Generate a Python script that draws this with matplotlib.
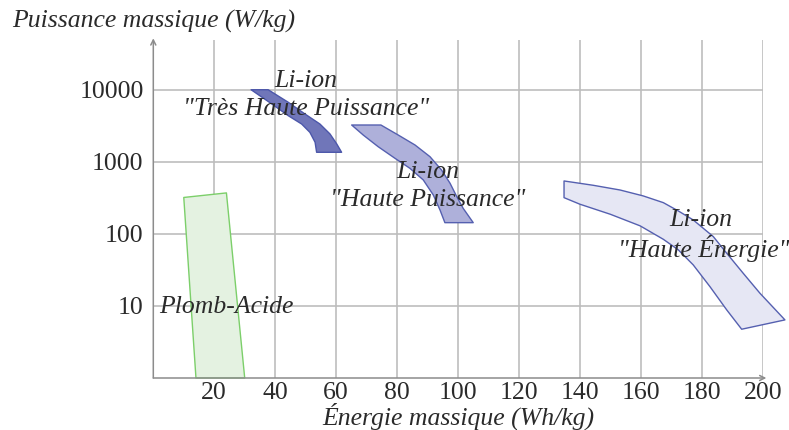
import matplotlib
matplotlib.use("Agg")
import matplotlib.pyplot as plt
from matplotlib.patches import Polygon

# Ragone chart: specific power vs specific energy for battery technologies
x_ticks = [20, 40, 60, 80, 100, 120, 140, 160, 180, 200]
y_ticks = [10, 100, 1000, 10000]
y_tick_labels = ["10", "100", "1000", "10000"]

# Outline of each technology region (Wh/kg, W/kg), traced clockwise
plomb_acide_x = [10, 24, 30, 14]
plomb_acide_y = [320, 370, 1, 1]

tres_haute_puissance_x = [32.1, 37.7, 44.3, 49.8, 54.7, 58.0, 60.2, 61.8,
                          53.6, 53.1, 51.4, 48.7, 44.3, 38.9]
tres_haute_puissance_y = [10000, 10000, 6690, 4600, 3340, 2430, 1770, 1355,
                          1355, 1865, 2560, 3340, 4360, 6340]

haute_puissance_x = [65.1, 74.7, 80.4, 85.9, 90.8, 94.6, 97.4, 99.6, 101.7, 105.0,
                     95.7, 94.1, 91.9, 88.6, 84.2, 79.3, 73.8, 68.9]
haute_puissance_y = [3240, 3240, 2350, 1710, 1178, 769, 503, 328, 226, 143,
                     143, 214, 346, 560, 813, 1119, 1620, 2350]

haute_energie_x = [134.8, 144.4, 153.2, 160.8, 167.4, 172.3, 177.2, 183.8, 188.2,
                   193.6, 199.1, 207.3,
                   193.1, 188.2, 182.7, 177.2, 172.3, 167.4, 159.8, 150.0, 140.0, 134.8]
haute_energie_y = [542, 472, 406, 336, 271, 208, 156, 91.5, 53.8,
                   28.4, 15.0, 6.4,
                   4.75, 8.8, 18.5, 37.1, 60, 84, 129, 187, 258, 318]

regions = [
    (plomb_acide_x, plomb_acide_y, "#e4f2e1", "#7ccf6a"),
    (tres_haute_puissance_x, tres_haute_puissance_y, "#7076b9", "#4c57aa"),
    (haute_puissance_x, haute_puissance_y, "#aeb0da", "#5560b0"),
    (haute_energie_x, haute_energie_y, "#e6e7f4", "#5560b0"),
]

labels = [
    (50.2, 11000, "Li-ion"),
    (50.3, 4460, "\"Très Haute Puissance\""),
    (90.0, 590, "Li-ion"),
    (90.0, 246, "\"Haute Puissance\""),
    (179.7, 130, "Li-ion"),
    (180.6, 48.3, "\"Haute Énergie\""),
    (24.0, 8.07, "Plomb-Acide"),
]

serif = ["Liberation Serif", "DejaVu Serif"]
text_color = "#2a2a2a"
grid_color = "#bdbdbd"
fs = 18.5

fig = plt.figure(figsize=(7.89, 4.30), dpi=100)
ax = fig.add_axes([153.3 / 789, 1 - 378 / 430, (762.7 - 153.3) / 789, (378 - 40) / 430])
ax.set_xscale("linear")
ax.set_yscale("log")
ax.set_xlim(0, 200)
ax.set_ylim(1, 10 ** 4.69)

for xs, ys, face, edge in regions:
    poly = Polygon(list(zip(xs, ys)), closed=True, facecolor=face,
                   edgecolor=edge, linewidth=1.0, zorder=3, clip_on=False,
                   joinstyle="round")
    ax.add_patch(poly)

for x, y, s in labels:
    ax.text(x, y, s, ha="center", va="baseline", fontsize=fs,
            family=serif, style="italic", color=text_color, zorder=5)

ax.set_xticks(x_ticks)
ax.set_xticklabels([str(v) for v in x_ticks])
ax.set_yticks(y_ticks)
ax.set_yticklabels(y_tick_labels)
ax.minorticks_off()
ax.tick_params(length=0, labelsize=fs, labelcolor=text_color)
ax.tick_params(axis="x", pad=3)
ax.tick_params(axis="y", pad=7)
for lab in ax.get_xticklabels() + ax.get_yticklabels():
    lab.set_family(serif)

ax.grid(True, color=grid_color, linewidth=1.2, zorder=0)
ax.set_axisbelow(True)
for sp in ax.spines.values():
    sp.set_visible(False)

# Axis lines with arrow heads
ax.annotate("", xy=(0, 1.005), xytext=(0, 0), xycoords="axes fraction",
            arrowprops=dict(arrowstyle="->", color="#8c8c8c", lw=1.1,
                            shrinkA=0, shrinkB=0, mutation_scale=9))
ax.annotate("", xy=(1.006, 0), xytext=(0, 0), xycoords="axes fraction",
            arrowprops=dict(arrowstyle="->", color="#8c8c8c", lw=1.1,
                            shrinkA=0, shrinkB=0, mutation_scale=9))

fig.text(12 / 789, 1 - 28 / 430, "Puissance massique (W/kg)", ha="left",
         va="baseline", fontsize=fs, family=serif, style="italic", color=text_color)
fig.text(458 / 789, 1 - 425 / 430, "Énergie massique (Wh/kg)", ha="center",
         va="baseline", fontsize=fs, family=serif, style="italic", color=text_color)

fig.savefig("out.png", dpi=100)
